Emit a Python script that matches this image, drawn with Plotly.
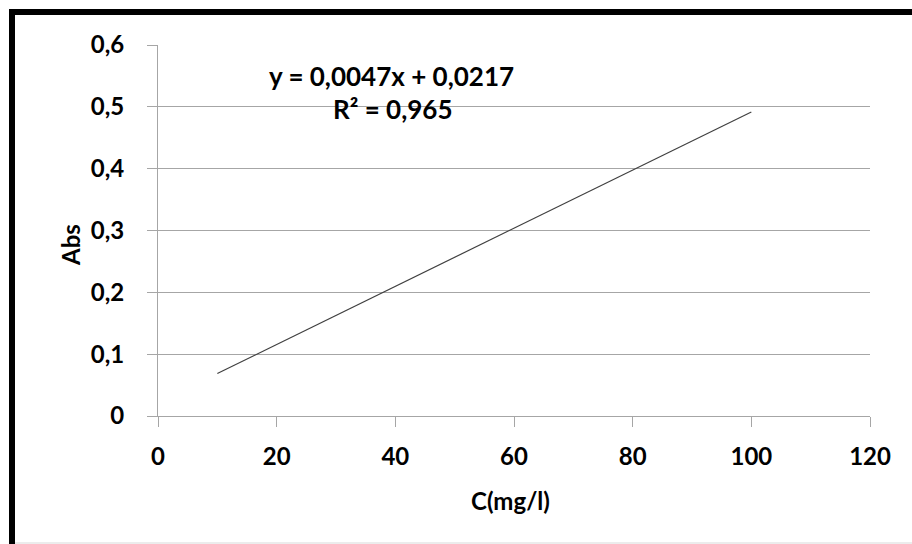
import plotly.graph_objects as go

conc = [10, 100]
absorb = [0.0687, 0.4917]
x_ticks = [0, 20, 40, 60, 80, 100, 120]
x_ticktext = ["0", "20", "40", "60", "80", "100", "120"]
y_ticks = [0, 0.1, 0.2, 0.3, 0.4, 0.5, 0.6]
y_ticktext = ["0", "0,1", "0,2", "0,3", "0,4", "0,5", "0,6"]
equation = "y = 0,0047x + 0,0217"
r2 = "R² = 0,965"
x_title = "C(mg/l)"
y_title = "Abs"

W, H = 912, 544
L, R, T, B = 158, 42, 45, 128
pw, ph = W - L - R, H - T - B

def px(x):
    return (x - L) / pw

def py(y):
    return (H - B - y) / ph

FONT = "Lato"
FS = 24
fig = go.Figure()
fig.add_trace(go.Scatter(x=conc, y=absorb, mode="lines",
                         line=dict(color="#404040", width=1.2),
                         showlegend=False, hoverinfo="skip"))

axis_common = dict(showline=True, linecolor="#a6a6a6", linewidth=1,
                   ticks="outside", ticklen=10, tickcolor="#a6a6a6",
                   tickfont=dict(family=FONT, size=FS, color="#000000", weight="bold"),
                   zeroline=False)

fig.update_xaxes(range=[0, 120], tickvals=x_ticks, ticktext=x_ticktext,
                 showgrid=False, ticklabelstandoff=9, **axis_common)
fig.update_yaxes(range=[0, 0.6], tickvals=y_ticks, ticktext=y_ticktext,
                 showgrid=True, gridcolor="#a6a6a6", gridwidth=1,
                 ticklabelstandoff=18, **axis_common)

tfont = dict(family=FONT, size=FS, color="#000", weight="bold")
efont = dict(family=FONT, size=26, color="#000", weight="bold")
fig.update_layout(
    width=W, height=H,
    margin=dict(l=L, r=R, t=T, b=B),
    paper_bgcolor="white", plot_bgcolor="white",
    annotations=[
        dict(text=equation, xref="paper", yref="paper", xanchor="center", yanchor="middle",
             x=px(391), y=py(76), showarrow=False, font=efont),
        dict(text=r2, xref="paper", yref="paper", xanchor="center", yanchor="middle",
             x=px(393), y=py(109), showarrow=False, font=efont),
        dict(text=x_title, xref="paper", yref="paper", xanchor="center", yanchor="middle",
             x=px(510), y=py(500), showarrow=False, font=tfont),
        dict(text=y_title, xref="paper", yref="paper", textangle=-90,
             xanchor="center", yanchor="middle",
             x=px(70), y=py(245), showarrow=False, font=tfont),
    ],
    shapes=[
        dict(type="rect", xref="paper", yref="paper",
             x0=px(12), x1=px(920), y0=py(552), y1=py(12),
             line=dict(color="black", width=6), layer="above"),
        dict(type="line", xref="paper", yref="paper",
             x0=px(15), x1=px(912), y0=py(543), y1=py(543),
             line=dict(color="#d9d9d9", width=1)),
    ],
)

fig.write_html("out.html")
